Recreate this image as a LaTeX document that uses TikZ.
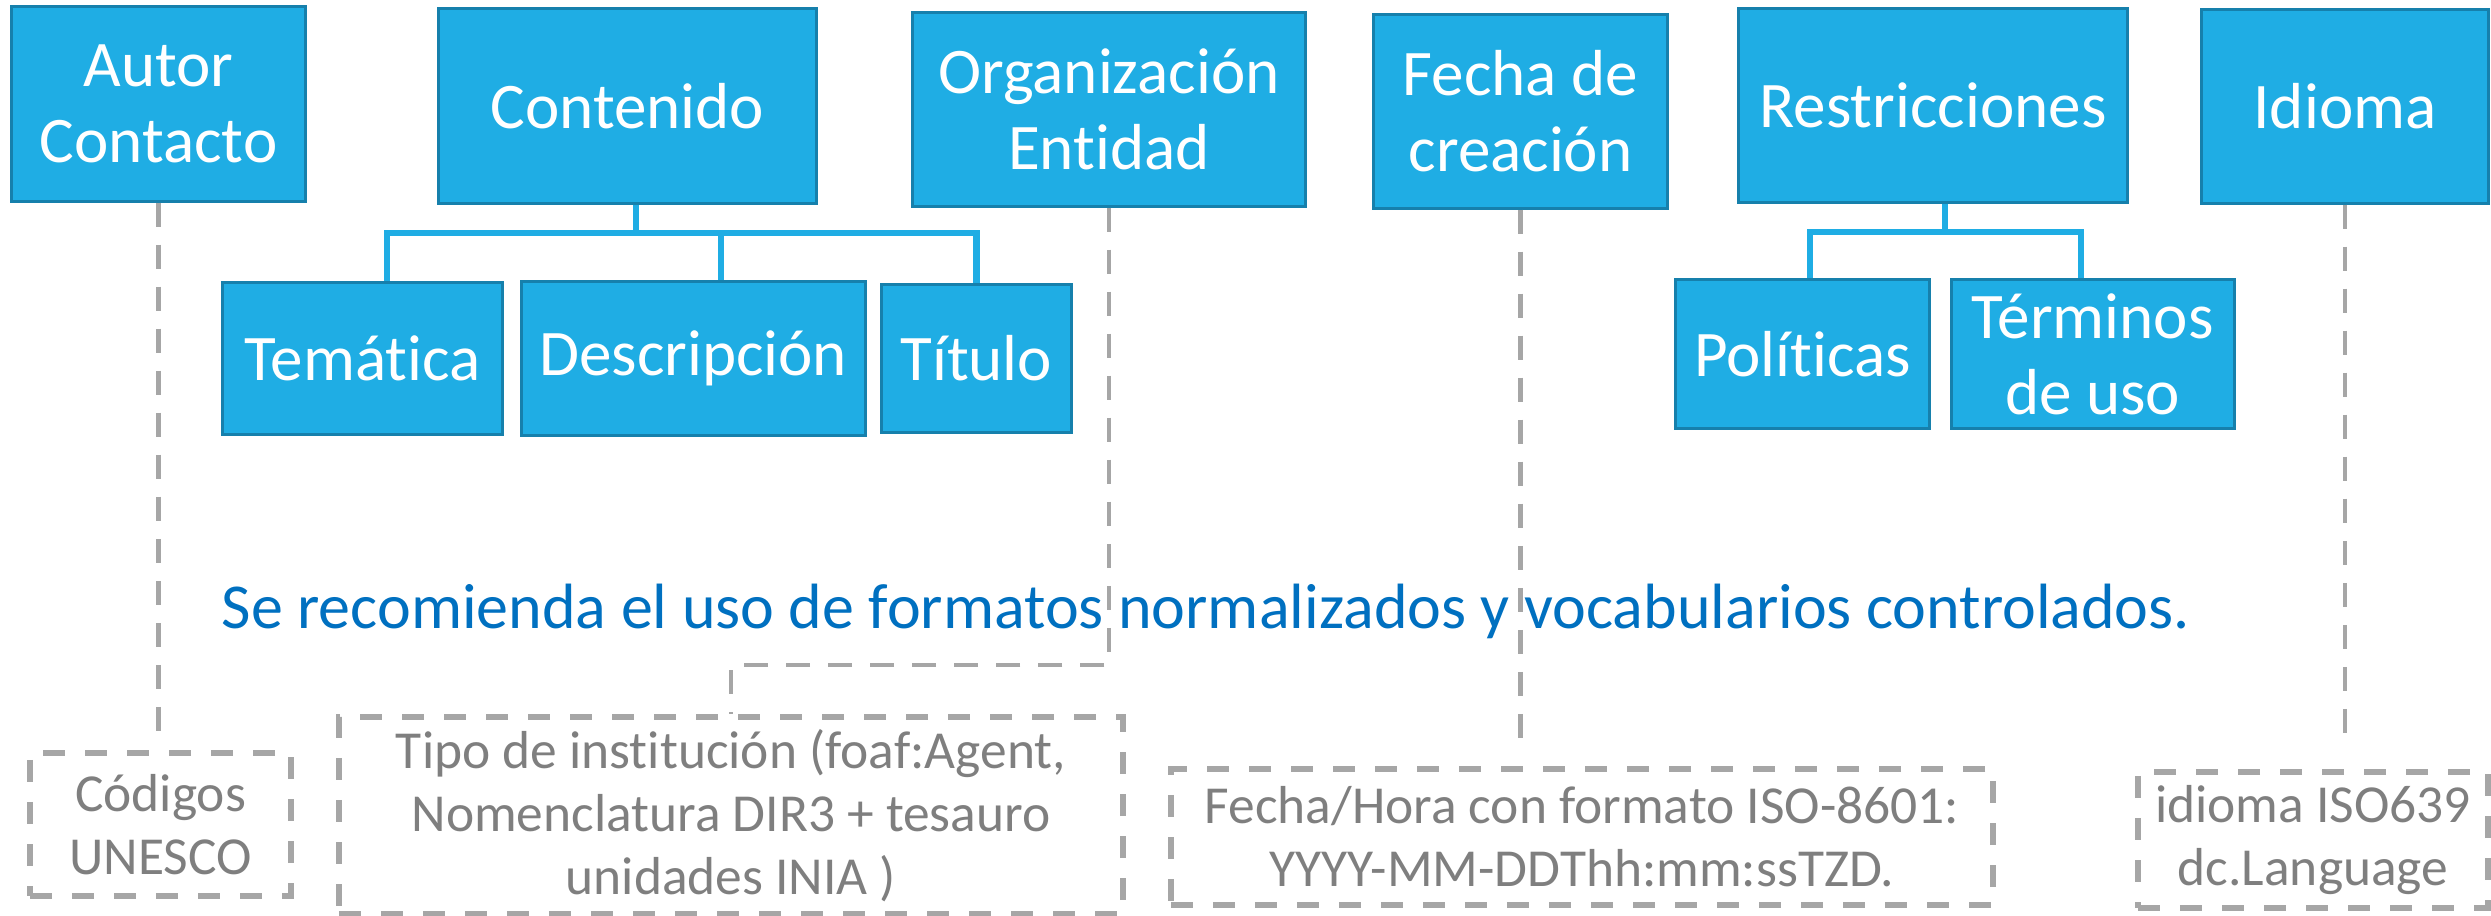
\documentclass[tikz,border=0pt]{standalone}
\usepackage{fontspec}
\setmainfont{Carlito}[Ligatures={NoCommon,NoContextual}]
\usepackage{tikz}
\usetikzlibrary{positioning}

\definecolor{boxblue}{RGB}{31,173,228}
\definecolor{boxedge}{RGB}{22,128,172}
\definecolor{dashgray}{RGB}{166,166,166}
\definecolor{textgray}{RGB}{127,127,127}
\definecolor{noteblue}{RGB}{0,112,192}

\begin{document}
\begin{tikzpicture}[x=0.01cm,y=-0.01cm,
    caja/.style={draw=boxedge,line width=0.85pt,fill=boxblue,text=white,align=center,inner sep=0pt,
      font=\fontsize{18.5}{21.6}\selectfont},
    nota/.style={draw=dashgray,line width=1.6pt,dash pattern=on 0.22cm off 0.2cm,text=textgray,
      align=center,inner sep=0pt,font=\fontsize{15.2}{17.9}\selectfont},
    rama/.style={draw=boxblue,line width=1.85pt},
    guia/.style={draw=dashgray,line width=1.2pt,dash pattern=on 0.24cm off 0.18cm}]
  \useasboundingbox (0,0) rectangle (2491,915);

  % cabeceras
  \node[caja,minimum width=2.93cm,minimum height=1.94cm] (autor) at (158.5,104) {Autor\\Contacto};
  \node[caja,minimum width=3.77cm,minimum height=1.94cm] (cont) at (627.5,106) {Contenido};
  \node[caja,minimum width=3.92cm,minimum height=1.93cm] (org) at (1109,109.5) {Organización\\Entidad};
  \node[caja,minimum width=2.93cm,minimum height=1.93cm] (fecha) at (1520.5,111.5) {Fecha de\\creación};
  \node[caja,minimum width=3.88cm,minimum height=1.93cm] (rest) at (1933,105.5) {Restricciones};
  \node[caja,minimum width=2.86cm,minimum height=1.93cm] (idioma) at (2345,106.5) {Idioma};

  % hijos
  \node[caja,minimum width=2.79cm,minimum height=1.51cm] (tema) at (362.5,358.5) {Temática};
  \node[caja,minimum width=3.44cm,minimum height=1.53cm,right=0.16cm of tema] (desc) {Descripción};
  \node[caja,minimum width=1.9cm,minimum height=1.48cm,right=0.13cm of desc] (tit) {Título};
  \node[caja,minimum width=2.53cm,minimum height=1.48cm] (pol) at (1802.5,354) {Políticas};
  \node[caja,minimum width=2.83cm,minimum height=1.48cm,right=0.19cm of pol] (term) {Términos\\de uso};

  % notas
  \node[text=noteblue,font=\fontsize{18.2}{21}\selectfont,anchor=base] (lema) at (1206,628)
    {Se recomienda el uso de formatos normalizados y vocabularios controlados.};
  \node[nota,minimum width=2.61cm,minimum height=1.43cm] (cod) at (160.5,824.5) {Códigos\\UNESCO};
  \node[nota,minimum width=7.84cm,minimum height=1.97cm] (tipo) at (731,815.5)
    {Tipo de institución (foaf:Agent,\\Nomenclatura DIR3 + tesauro\\unidades INIA )};
  \node[nota,minimum width=8.22cm,minimum height=1.36cm] (iso) at (1582,837)
    {Fecha/Hora con formato ISO-8601:\\YYYY-MM-DDThh:mm:ssTZD.};
  \node[nota,minimum width=3.5cm,minimum height=1.36cm] (lang) at (2313,840) {idioma ISO639\\dc.Language};

  % cont>hijos
  \coordinate (cbar) at (636,233);
  \coordinate (tt) at ([xshift=0.245cm]tema.north);
  \coordinate (dt) at ([xshift=0.28cm]desc.north);
  \draw[rama] (cbar) -- (cbar |- cont.south);
  \draw[rama] (tt) |- (tit.north |- cbar) -- (tit.north);
  \draw[rama] (dt) -- (dt |- cbar);

  % rest>hijos
  \coordinate (rbar) at (1945,232);
  \coordinate (pt) at ([xshift=0.075cm]pol.north);
  \coordinate (mt) at ([xshift=-0.115cm]term.north);
  \draw[rama] (rbar) -- (rbar |- rest.south);
  \draw[rama] (pt) |- (mt |- rbar) -- (mt);

  % guias
  \draw[guia,shorten >=0.18cm] (autor.south) -- (autor.south |- cod.north);
  \draw[guia] (org.south) |- ([yshift=0.49cm]tipo.north) -- (tipo.north);
  \draw[guia,shorten >=0.27cm] (fecha.south) -- (fecha.south |- iso.north);
  \draw[guia,shorten >=0.34cm] (idioma.south) -- (idioma.south |- lang.north);
\end{tikzpicture}
\end{document}
